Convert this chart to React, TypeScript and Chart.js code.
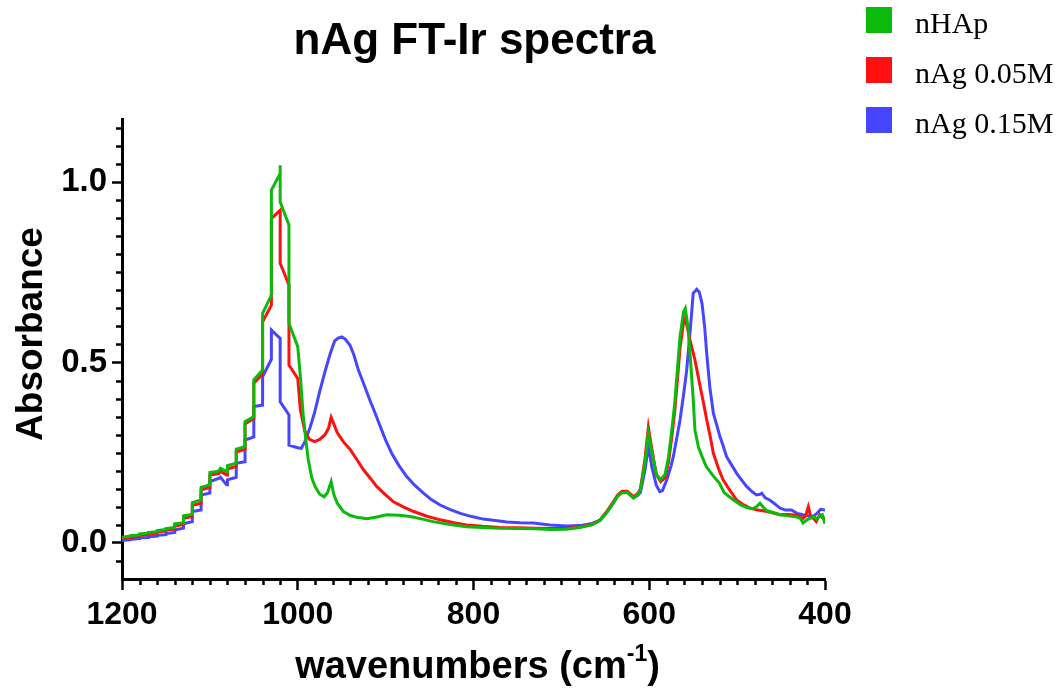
import React, { useEffect, useRef } from 'react';
import { Chart, registerables } from 'chart.js';

Chart.register(...registerables);

const chartTitle = 'nAg FT-Ir spectra';
const yAxisTitle = 'Absorbance';
const xAxisTitleMain = 'wavenumbers (cm';
const xAxisTitleSup = '-1';
const xAxisTitleEnd = ')';

const seriesLabels = ['nHAp', 'nAg 0.05M', 'nAg 0.15M'];
const seriesColors = ['#0CBA0C', '#FF0F0F', '#4646FF'];

const xTickValues = [400, 600, 800, 1000, 1200];
const yTickValues = [0, 0.5, 1.0];

// nHAp (green)
const nhapWn = [
  1200, 1190, 1190, 1180, 1180, 1170, 1170, 1160, 1160, 1150, 1150, 1140, 1140, 1130, 1130,
  1120, 1120, 1110, 1110, 1100, 1100, 1090, 1088, 1081, 1080, 1080, 1070, 1070, 1060, 1060,
  1050, 1050, 1040, 1040, 1030, 1030, 1020, 1020, 1020, 1010, 1010, 1000, 997, 994, 991,
  988, 984, 980, 975, 970, 966, 962, 959, 955, 948, 940, 933, 921, 910, 899, 885, 872, 858,
  846, 827, 808, 790, 770, 747, 730, 713, 694, 679, 665, 656, 648, 641, 636, 631, 625, 618,
  613, 610, 605, 601, 597, 592, 587, 582, 578, 574, 571, 568, 565, 561, 559, 556, 553.6, 550,
  548, 544, 540, 535, 527, 520, 515, 510, 504, 496, 489, 482, 478, 474, 470, 466, 460, 451,
  442, 432, 428, 425, 420, 413, 409, 406, 403, 400,
];
const nhapAbs = [
  0.016, 0.019, 0.020, 0.022, 0.025, 0.027, 0.029, 0.031, 0.034, 0.037, 0.040, 0.043, 0.053, 0.056, 0.075,
  0.079, 0.112, 0.119, 0.154, 0.161, 0.195, 0.199, 0.207, 0.198, 0.198, 0.214, 0.221, 0.260, 0.267, 0.336,
  0.350, 0.452, 0.479, 0.636, 0.687, 0.978, 1.024, 1.047, 0.945, 0.881, 0.609, 0.544, 0.46, 0.36, 0.29,
  0.23, 0.18, 0.155, 0.135, 0.128, 0.14, 0.17, 0.135, 0.11, 0.087, 0.076, 0.071, 0.067, 0.072, 0.078, 0.077, 0.073, 0.066,
  0.059, 0.051, 0.045, 0.043, 0.041, 0.040, 0.039, 0.037, 0.038, 0.043, 0.05, 0.062, 0.085, 0.11, 0.13, 0.139, 0.14, 0.125,
  0.135, 0.147, 0.22, 0.304, 0.25, 0.19, 0.175, 0.19, 0.239, 0.32, 0.387, 0.48, 0.571, 0.64, 0.65, 0.60, 0.525, 0.40,
  0.313, 0.265, 0.24, 0.211, 0.185, 0.165, 0.14, 0.13, 0.119, 0.105, 0.098, 0.095, 0.1, 0.11, 0.098, 0.089, 0.085, 0.078,
  0.075, 0.072, 0.068, 0.055, 0.065, 0.073, 0.066, 0.075, 0.078, 0.053,
];

// nAg 0.05M (red)
const ag005Wn = [
  1200, 1190, 1190, 1180, 1180, 1170, 1170, 1160, 1160, 1150, 1150, 1140, 1140, 1130, 1130,
  1120, 1120, 1110, 1110, 1100, 1100, 1090, 1088, 1081, 1080, 1080, 1070, 1070, 1060, 1060,
  1050, 1050, 1040, 1040, 1030, 1030, 1020, 1020, 1010, 1010, 1000, 997, 992, 987, 981,
  975, 969, 965, 962, 959, 955, 948, 940, 933, 925, 917, 910, 900, 891, 880, 868, 853, 838,
  822, 808, 790, 770, 747, 730, 713, 694, 679, 665, 656, 648, 641, 636, 631, 625, 618, 613,
  610, 605, 601, 597, 592, 587, 582, 578, 574, 571, 568, 565, 561, 559, 556, 553.6, 548, 542,
  538, 534.6, 531, 527, 521, 516, 508, 500.5, 493, 485, 476, 466, 451, 442, 432, 425, 422,
  419, 416, 413, 410, 406, 403, 400,
];
const ag005Abs = [
  0.012, 0.015, 0.016, 0.018, 0.021, 0.023, 0.025, 0.027, 0.030, 0.033, 0.036, 0.038, 0.047, 0.051, 0.068,
  0.073, 0.104, 0.110, 0.147, 0.154, 0.188, 0.192, 0.199, 0.188, 0.188, 0.205, 0.212, 0.252, 0.260, 0.330,
  0.345, 0.443, 0.468, 0.613, 0.659, 0.899, 0.922, 0.775, 0.715, 0.493, 0.456, 0.368, 0.31, 0.288, 0.281,
  0.287, 0.30, 0.318, 0.348, 0.33, 0.305, 0.28, 0.258, 0.232, 0.202, 0.178, 0.156, 0.133, 0.114, 0.100, 0.087, 0.074, 0.064,
  0.056, 0.05, 0.046, 0.043, 0.042, 0.041, 0.040, 0.040, 0.044, 0.051, 0.063, 0.088, 0.113, 0.133, 0.143, 0.143, 0.128, 0.137,
  0.15, 0.23, 0.32, 0.26, 0.19, 0.17, 0.18, 0.225, 0.30, 0.365, 0.45, 0.54, 0.61, 0.623, 0.59, 0.562, 0.507, 0.433,
  0.385, 0.341, 0.30, 0.248, 0.205, 0.175, 0.145, 0.119, 0.106, 0.096, 0.091, 0.087, 0.078, 0.079, 0.077, 0.068, 0.075,
  0.1, 0.07, 0.068, 0.059, 0.078, 0.07, 0.068,
];

// nAg 0.15M (blue)
const ag015Wn = [
  1200, 1190, 1190, 1180, 1180, 1170, 1170, 1160, 1160, 1150, 1150, 1140, 1140, 1130, 1130,
  1120, 1120, 1110, 1110, 1100, 1100, 1090, 1088, 1081, 1080, 1080, 1070, 1070, 1060, 1060,
  1050, 1050, 1040, 1040, 1030, 1030, 1020, 1020, 1010, 1010, 1000, 996, 992, 986, 981,
  975, 969, 963, 958, 954, 950, 946, 940.5, 936, 931, 924, 918, 912, 906, 900, 893, 885, 876,
  867, 857, 848, 838, 827, 815, 802, 789, 775, 762, 747, 732, 713, 694, 679, 665, 656, 648,
  641, 636, 631, 625, 618, 613, 610, 605, 601, 597, 592, 588, 585, 580, 575, 572.6, 568, 565,
  561, 557.4, 553, 550, 546, 543, 540, 537, 534.6, 531, 527, 523, 519.5, 516, 512, 506, 500.5,
  495, 489, 483, 478, 474, 472, 468, 463, 458, 451, 445, 438, 432, 425, 419, 415, 411, 408,
  405, 400,
];
const ag015Abs = [
  0.007, 0.009, 0.010, 0.012, 0.014, 0.015, 0.017, 0.019, 0.021, 0.023, 0.026, 0.029, 0.036, 0.041, 0.053,
  0.059, 0.087, 0.091, 0.133, 0.138, 0.170, 0.179, 0.182, 0.161, 0.161, 0.175, 0.182, 0.221, 0.225, 0.285,
  0.294, 0.378, 0.382, 0.461, 0.509, 0.590, 0.567, 0.391, 0.355, 0.271, 0.264, 0.262, 0.28, 0.32, 0.36,
  0.42, 0.475, 0.525, 0.56, 0.568, 0.571, 0.565, 0.548, 0.52, 0.479, 0.435, 0.396, 0.36, 0.322, 0.285, 0.248, 0.215, 0.184,
  0.16, 0.138, 0.12, 0.105, 0.093, 0.082, 0.073, 0.066, 0.062, 0.058, 0.056, 0.055, 0.05, 0.047, 0.048, 0.054, 0.063, 0.087,
  0.11, 0.13, 0.14, 0.14, 0.125, 0.132, 0.14, 0.2, 0.267, 0.21, 0.16, 0.142, 0.145, 0.175, 0.215, 0.239, 0.30, 0.341,
  0.41, 0.479, 0.6, 0.692, 0.703, 0.695, 0.664, 0.6, 0.525, 0.43, 0.359, 0.325, 0.294, 0.27, 0.239, 0.215, 0.193,
  0.175, 0.156, 0.142, 0.133, 0.135, 0.138, 0.125, 0.119, 0.11, 0.096, 0.091, 0.091, 0.082, 0.078, 0.075, 0.073, 0.078, 0.085,
  0.093, 0.091,
];

const SANS = '"Liberation Sans", Arial, Helvetica, sans-serif';
const SERIF = '"Liberation Serif", "Times New Roman", serif';

const toPoints = (xs: number[], ys: number[]) => xs.map((x, i) => ({ x, y: ys[i] }));

const decorPlugin = {
  id: 'decor',
  afterDraw(chart: any) {
    const { ctx, chartArea, scales } = chart;
    const xs = scales.x;
    const ys = scales.y;
    ctx.save();
    ctx.strokeStyle = '#000';
    ctx.lineWidth = 2.5;
    // minor y ticks every 0.05
    for (let i = -1; i <= 23; i++) {
      if (i % 10 === 0) continue;
      const py = Math.round(ys.getPixelForValue(i * 0.05)) + 0.5;
      ctx.beginPath();
      ctx.moveTo(chartArea.left, py);
      ctx.lineTo(chartArea.left - 6, py);
      ctx.stroke();
    }
    // minor x ticks every 20
    for (let v = 420; v < 1200; v += 20) {
      if (v % 200 === 0) continue;
      const px = Math.round(xs.getPixelForValue(v)) + 0.5;
      ctx.beginPath();
      ctx.moveTo(px, chartArea.bottom);
      ctx.lineTo(px, chartArea.bottom + 6);
      ctx.stroke();
    }

    const cx = (chartArea.left + chartArea.right) / 2;
    ctx.fillStyle = '#000';
    ctx.textBaseline = 'alphabetic';

    // main title
    ctx.font = `bold 44px ${SANS}`;
    ctx.textAlign = 'center';
    ctx.fillText(chartTitle, cx + 1, 54);

    // y title
    ctx.save();
    ctx.font = `bold 37px ${SANS}`;
    ctx.translate(42, 334);
    ctx.rotate(-Math.PI / 2);
    ctx.textAlign = 'center';
    ctx.fillText(yAxisTitle, 0, 0);
    ctx.restore();

    // x title with superscript
    const mainFont = `bold 38px ${SANS}`;
    const supFont = `bold 23px ${SANS}`;
    ctx.font = mainFont;
    const w1 = ctx.measureText(xAxisTitleMain).width;
    const w3 = ctx.measureText(xAxisTitleEnd).width;
    ctx.font = supFont;
    const w2 = ctx.measureText(xAxisTitleSup).width;
    let x0 = cx + 4 - (w1 + w2 + w3) / 2;
    const base = 678;
    ctx.textAlign = 'left';
    ctx.font = mainFont;
    ctx.fillText(xAxisTitleMain, x0, base);
    x0 += w1;
    ctx.font = supFont;
    ctx.fillText(xAxisTitleSup, x0, base - 17);
    x0 += w2;
    ctx.font = mainFont;
    ctx.fillText(xAxisTitleEnd, x0, base);

    // legend
    ctx.font = `30px ${SERIF}`;
    ctx.textAlign = 'left';
    seriesLabels.forEach((label, i) => {
      const top = 7 + i * 50;
      ctx.fillStyle = seriesColors[i];
      ctx.fillRect(866, top, 26, 26);
      ctx.fillStyle = '#000';
      ctx.fillText(label, 915, top + 26);
    });
    ctx.restore();
  },
};

export default function App() {
  const canvasRef = useRef<HTMLCanvasElement | null>(null);

  useEffect(() => {
    if (!canvasRef.current) return;
    const datasets = [
      { label: seriesLabels[0], data: toPoints(nhapWn, nhapAbs), borderColor: seriesColors[0] },
      { label: seriesLabels[1], data: toPoints(ag005Wn, ag005Abs), borderColor: seriesColors[1] },
      { label: seriesLabels[2], data: toPoints(ag015Wn, ag015Abs), borderColor: seriesColors[2] },
    ].map((d) => ({
      ...d,
      backgroundColor: d.borderColor,
      borderWidth: 3,
      pointRadius: 0,
      fill: false,
      tension: 0,
    }));

    const chart = new Chart(canvasRef.current, {
      type: 'line',
      data: { datasets },
      options: {
        animation: false,
        responsive: false,
        devicePixelRatio: 1,
        layout: { padding: { top: 119, right: 238, left: 0, bottom: 0 } },
        plugins: {
          legend: { display: false },
          title: { display: false },
          tooltip: { enabled: false },
        },
        scales: {
          x: {
            type: 'linear',
            min: 400,
            max: 1200,
            reverse: true,
            afterBuildTicks: (s: any) => {
              s.ticks = xTickValues.map((v) => ({ value: v }));
            },
            afterFit: (s: any) => {
              s.height = 119;
            },
            grid: { drawOnChartArea: false, drawTicks: true, tickLength: 11, tickWidth: 2.5, tickColor: '#000' },
            border: { display: true, color: '#000', width: 3 },
            ticks: {
              color: '#000',
              font: { family: SANS, size: 32, weight: 'bold' },
              padding: 6,
              maxRotation: 0,
              autoSkip: false,
              callback: (v: any) => String(v),
            },
          },
          y: {
            type: 'linear',
            min: -0.1,
            max: 1.175,
            afterBuildTicks: (s: any) => {
              s.ticks = yTickValues.map((v) => ({ value: v }));
            },
            afterFit: (s: any) => {
              s.width = 122;
            },
            grid: { drawOnChartArea: false, drawTicks: true, tickLength: 10, tickWidth: 2.5, tickColor: '#000' },
            border: { display: true, color: '#000', width: 3 },
            ticks: {
              color: '#000',
              font: { family: SANS, size: 33, weight: 'bold' },
              padding: 5,
              autoSkip: false,
              callback: (v: any) => Number(v).toFixed(1),
            },
          },
        },
      },
      plugins: [decorPlugin],
    } as any);

    return () => chart.destroy();
  }, []);

  return (
    <div style={{ position: 'absolute', left: 0, top: 0, width: 1063, height: 698, background: '#fff' }}>
      <canvas ref={canvasRef} width={1063} height={698} style={{ display: 'block' }} />
    </div>
  );
}
